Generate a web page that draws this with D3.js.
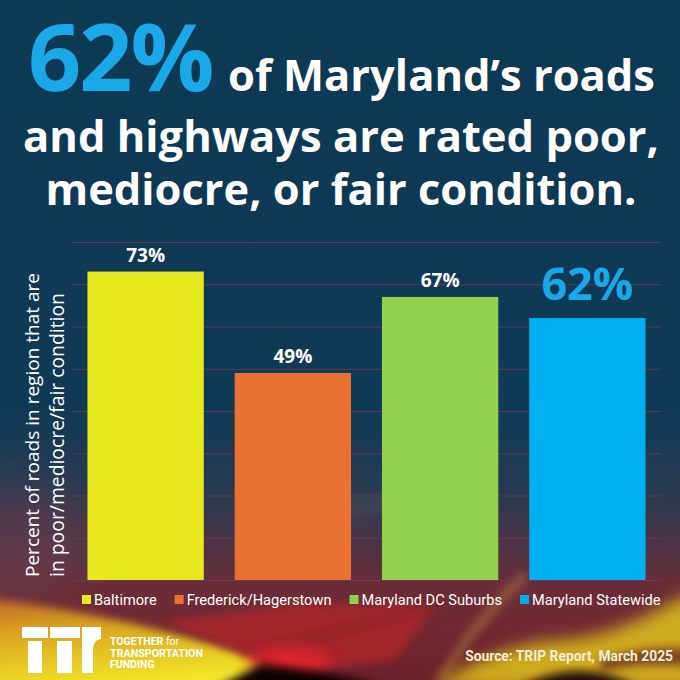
<!DOCTYPE html>
<html>
<head>
<meta charset="utf-8">
<script src="https://cdn.jsdelivr.net/npm/d3@7"></script>
<style>
  html, body { margin: 0; padding: 0; background: #0c3954; }
  svg { display: block; }
</style>
</head>
<body>
<div id="chart"></div>
<script>
// data
var regions = ["Baltimore", "Frederick/Hagerstown", "Maryland DC Suburbs", "Maryland Statewide"];
var values = [73, 49, 67, 62];
var barColors = ["#e8e81f", "#e97132", "#92d050", "#00b0f0"];
var gridTicks = [0, 10, 20, 30, 40, 50, 60, 70, 80];

var headline = "62%";
var titleRest = "of Maryland\u2019s roads";
var titleLines = ["and highways are rated poor,", "mediocre, or fair condition."];
var axisLines = ["Percent of roads in region that are", "in poor/mediocre/fair condition"];
var logoLines = ["TRANSPORTATION", "FUNDING"];
var sourceText = "Source: TRIP Report, March 2025";

var W = 680, H = 680;
var titleFont = "'Open Sans', 'DejaVu Sans', sans-serif";
var bodyFont = "Roboto, 'Open Sans', sans-serif";

var svg = d3.select("#chart").append("svg")
    .attr("width", W)
    .attr("height", H);

var defs = svg.append("defs");

var bg = defs.append("linearGradient")
    .attr("id", "bg")
    .attr("x1", 0).attr("y1", 0).attr("x2", 0).attr("y2", 1);
[[0, "#0c3954"], [0.6, "#0f3a55"], [0.72, "#263a50"], [0.8, "#4a3444"],
 [0.86, "#6a2c38"], [0.92, "#722a33"], [1, "#6a2028"]].forEach(function(s){
    bg.append("stop").attr("offset", s[0]).attr("stop-color", s[1]);
});

var yel = defs.append("linearGradient")
    .attr("id", "yel")
    .attr("x1", 0).attr("y1", 0).attr("x2", 0.3).attr("y2", 1);
yel.append("stop").attr("offset", 0).attr("stop-color", "#c0602a");
yel.append("stop").attr("offset", 0.35).attr("stop-color", "#d8a020");
yel.append("stop").attr("offset", 1).attr("stop-color", "#f4e82a");

[["blur4", 4], ["blur8", 8], ["blur20", 20]].forEach(function(f){
    defs.append("filter").attr("id", f[0])
        .attr("x", "-30%").attr("y", "-30%").attr("width", "160%").attr("height", "160%")
        .append("feGaussianBlur").attr("stdDeviation", f[1]);
});

svg.append("rect").attr("width", W).attr("height", H).attr("fill", "url(#bg)");

// soft shapes at the bottom of the backdrop
var deco = svg.append("g");
deco.append("ellipse")
    .attr("cx", 10).attr("cy", 545).attr("rx", 90).attr("ry", 60)
    .attr("fill", "#6a4050").attr("opacity", 0.5).attr("filter", "url(#blur20)");
deco.append("path")
    .attr("d", "M280,540 C340,500 420,490 470,520")
    .attr("fill", "none").attr("stroke", "#8a7a88").attr("stroke-width", 14)
    .attr("opacity", 0.25).attr("filter", "url(#blur8)");
deco.append("path")
    .attr("d", "M-20,598 C60,606 160,628 250,655 L310,690 L-20,690 Z")
    .attr("fill", "url(#yel)").attr("filter", "url(#blur4)");
deco.append("path")
    .attr("d", "M165,622 L300,604 L435,606 L395,660 L300,672 L243,655 Z")
    .attr("fill", "#a8262c").attr("opacity", 0.9).attr("filter", "url(#blur4)");
deco.append("path")
    .attr("d", "M243,655 L434,607")
    .attr("stroke", "#6a1a20").attr("stroke-width", 3).attr("opacity", 0.6)
    .attr("filter", "url(#blur4)");
deco.append("ellipse")
    .attr("cx", 290).attr("cy", 662).attr("rx", 42).attr("ry", 14)
    .attr("fill", "#e0222a").attr("filter", "url(#blur8)");
deco.append("path")
    .attr("d", "M212,690 L262,664 L330,674 L395,690 Z")
    .attr("fill", "#100505").attr("filter", "url(#blur4)");
deco.append("path")
    .attr("d", "M430,690 C470,660 520,642 560,640 C610,638 650,615 700,588 L700,690 Z")
    .attr("fill", "#d8b81e").attr("opacity", 0.9).attr("filter", "url(#blur8)");
deco.append("path")
    .attr("d", "M440,680 C470,630 500,600 525,575")
    .attr("fill", "none").attr("stroke", "#c8a040").attr("stroke-width", 10)
    .attr("opacity", 0.35).attr("filter", "url(#blur4)");
deco.append("path")
    .attr("d", "M515,690 C550,668 600,662 640,690 Z")
    .attr("fill", "#200810").attr("filter", "url(#blur4)");
deco.append("path")
    .attr("d", "M600,660 C630,650 660,645 700,650 L700,668 C660,662 630,665 600,672 Z")
    .attr("fill", "#5a1e24").attr("opacity", 0.7).attr("filter", "url(#blur4)");

// helper: set font size so the text has the given width
function fitText(sel, width){
    var size = +sel.attr("font-size");
    var len = sel.node().getComputedTextLength();
    sel.attr("font-size", (size * width / len).toFixed(2));
    return sel;
}

// title
var big = svg.append("text")
    .attr("x", 28).attr("y", 91)
    .attr("font-family", titleFont).attr("font-weight", 700)
    .attr("font-size", 86).attr("fill", "#1ba8e8")
    .attr("letter-spacing", -2)
    .text(headline);
fitText(big, 184);

var t1 = svg.append("text")
    .attr("x", 228).attr("y", 91)
    .attr("font-family", titleFont).attr("font-weight", 700)
    .attr("font-size", 40).attr("fill", "#ffffff")
    .text(titleRest);
fitText(t1, 427);

svg.selectAll("text.tline")
    .data(titleLines)
    .enter()
    .append("text")
    .attr("class", "tline")
    .attr("x", W / 2 + 1)
    .attr("y", function(d, i){ return 152 + i * 53; })
    .attr("text-anchor", "middle")
    .attr("font-family", titleFont).attr("font-weight", 700)
    .attr("font-size", 40).attr("fill", "#ffffff")
    .text(function(d){ return d; })
    .each(function(d, i){ fitText(d3.select(this), i === 0 ? 636 : 591); });

// chart
var x = d3.scaleBand()
    .domain(regions)
    .range([72, 661])
    .paddingInner(0.21)
    .paddingOuter(0.105);

var y = d3.scaleLinear()
    .domain([0, 80])
    .range([580, 242]);

var color = d3.scaleOrdinal().domain(regions).range(barColors);

var bars = regions.map(function(r, i){ return {region: r, value: values[i]}; });

svg.append("g")
    .selectAll("line")
    .data(gridTicks)
    .enter()
    .append("line")
    .attr("x1", 72).attr("x2", 661)
    .attr("y1", function(d){ return y(d) + 0.5; })
    .attr("y2", function(d){ return y(d) + 0.5; })
    .attr("stroke", "#7a3a52")
    .attr("stroke-opacity", 0.75)
    .attr("stroke-width", 1);

svg.append("g")
    .selectAll("rect")
    .data(bars)
    .enter()
    .append("rect")
    .attr("x", function(d){ return x(d.region); })
    .attr("y", function(d){ return y(d.value); })
    .attr("width", x.bandwidth())
    .attr("height", function(d){ return y(0) - y(d.value); })
    .attr("fill", function(d){ return color(d.region); });

var last = regions[regions.length - 1];
svg.append("g")
    .selectAll("text")
    .data(bars)
    .enter()
    .append("text")
    .attr("x", function(d){ return x(d.region) + x.bandwidth() / 2; })
    .attr("y", function(d){ return y(d.value) - (d.region === last ? 18 : 10); })
    .attr("text-anchor", "middle")
    .attr("font-family", titleFont).attr("font-weight", 700)
    .attr("font-size", function(d){ return d.region === last ? 45 : 19; })
    .attr("fill", function(d){ return d.region === last ? "#1ba8e8" : "#ffffff"; })
    .text(function(d){ return d.value + "%"; });

// y axis title
svg.append("g")
    .selectAll("text")
    .data(axisLines)
    .enter()
    .append("text")
    .attr("transform", function(d, i){ return "translate(" + (39 + i * 25) + ",577) rotate(-90)"; })
    .attr("font-family", titleFont)
    .attr("font-size", 18)
    .attr("fill", "#ffffff")
    .text(function(d){ return d; })
    .each(function(d, i){ fitText(d3.select(this), i === 0 ? 304 : 284); });

// legend
var legend = svg.append("g").attr("transform", "translate(0,605)");
var items = legend.selectAll("g")
    .data(regions)
    .enter()
    .append("g");
items.append("rect")
    .attr("y", -10).attr("width", 9).attr("height", 9)
    .attr("fill", function(d){ return color(d); });
items.append("text")
    .attr("x", 12)
    .attr("font-family", bodyFont).attr("font-size", 15)
    .attr("fill", "#ffffff")
    .text(function(d){ return d; });
var lx = 82;
items.each(function(d){
    var g = d3.select(this);
    g.attr("transform", "translate(" + lx + ",0)");
    lx += 12 + g.select("text").node().getComputedTextLength() + 18;
});
// squeeze to the reference width if needed
var total = lx - 18 - 82;
if (total > 576) {
    var k = 576 / total;
    lx = 82;
    items.each(function(d){
        var g = d3.select(this);
        var tx = g.select("text");
        tx.attr("font-size", 15 * k);
        g.attr("transform", "translate(" + lx + ",0)");
        lx += 12 + tx.node().getComputedTextLength() + 18;
    });
}

// logo
var logo = svg.append("g").attr("fill", "#ffffff");
logo.append("rect").attr("x", 22).attr("y", 627).attr("width", 26).attr("height", 11);
logo.append("rect").attr("x", 28).attr("y", 641).attr("width", 14).attr("height", 32);
logo.append("rect").attr("x", 50).attr("y", 627).attr("width", 30).attr("height", 11);
logo.append("rect").attr("x", 57).attr("y", 641).attr("width", 15).attr("height", 32);
logo.append("path")
    .attr("d", "M82,673 L82,627 L101,627 L101,639 C94,640 93,646 93,652 L93,673 Z");

var lt = svg.append("g")
    .attr("font-family", bodyFont).attr("font-weight", 700)
    .attr("fill", "#ffffff");
var tg = lt.append("text").attr("x", 110).attr("y", 645).attr("font-size", 10.5);
tg.append("tspan").text("TOGETHER ");
tg.append("tspan").attr("font-weight", 400).text("for");
lt.selectAll("text.lg")
    .data(logoLines)
    .enter()
    .append("text")
    .attr("class", "lg")
    .attr("x", 110)
    .attr("y", function(d, i){ return 657 + i * 11; })
    .attr("font-size", 10.5)
    .text(function(d){ return d; });
fitText(lt.select("text.lg"), 93);

var src = svg.append("text")
    .attr("x", 673).attr("y", 661)
    .attr("text-anchor", "end")
    .attr("font-family", bodyFont).attr("font-weight", 700)
    .attr("font-size", 14)
    .attr("fill", "#f4ecd8")
    .text(sourceText);
fitText(src, 208);
</script>
</body>
</html>
